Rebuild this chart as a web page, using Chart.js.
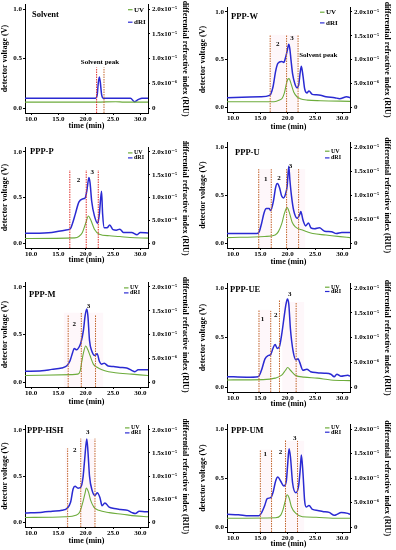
<!DOCTYPE html>
<html>
<head>
<meta charset="utf-8">
<script src="https://cdn.jsdelivr.net/npm/chart.js@4.4.1/dist/chart.umd.min.js"></script>
<style>
body { margin: 0; background: #fff; width: 396px; height: 550px; position: relative; overflow: hidden; }
canvas { position: absolute; }
</style>
</head>
<body>
<script>
// time (min), UV in V, dRI in units of 1e-5 RIU
var solventUV = [[8.9,0.060],[22.0,0.060],[25.5,0.064],[27.0,0.060],[31.4,0.060]];
var solventDri = [[8.9,0.20],[21.8,0.20],[22.1,0.26],[22.3,0.50],[22.5,0.63],[22.7,0.50],[22.9,0.28],[23.2,0.20],[28.2,0.20],[28.9,0.13],[29.6,0.17],[30.3,0.20],[31.4,0.20]];

var wUV = [[8.9,0.058],[17.5,0.058],[18.5,0.075],[19.0,0.095],[19.4,0.15],[19.7,0.23],[20.0,0.29],[20.25,0.30],[20.6,0.25],[21.1,0.16],[21.7,0.11],[22.3,0.09],[23.6,0.075],[26.0,0.068],[31.4,0.062]];
var wDri = [[8.9,0.20],[15.0,0.22],[16.7,0.25],[17.3,0.42],[17.8,0.76],[18.2,0.92],[18.9,0.96],[19.3,0.94],[19.6,1.04],[19.9,1.18],[20.2,1.32],[20.4,1.22],[20.6,1.00],[20.9,0.70],[21.3,0.50],[21.7,0.41],[22.0,0.46],[22.3,0.74],[22.5,0.86],[22.8,0.66],[23.1,0.39],[23.5,0.30],[23.9,0.34],[24.5,0.27],[25.2,0.26],[26.0,0.25],[27.0,0.22],[28.6,0.20],[29.5,0.18],[30.8,0.22],[31.4,0.20]];

var pUV = [[8.9,0.054],[18.0,0.060],[18.75,0.075],[19.4,0.12],[20.0,0.22],[20.5,0.30],[20.9,0.26],[21.6,0.155],[22.5,0.10],[24.4,0.083],[26.25,0.075],[28.1,0.065],[31.4,0.058]];
var pDri = [[8.9,0.22],[13.8,0.24],[16.2,0.29],[17.2,0.32],[17.6,0.44],[18.1,0.64],[18.75,0.90],[19.4,0.97],[19.9,0.99],[20.2,1.14],[20.6,1.44],[20.8,1.32],[21.1,0.92],[21.6,0.60],[22.2,0.44],[22.5,0.64],[22.9,1.14],[23.1,0.64],[23.4,0.34],[23.9,0.34],[24.4,0.40],[25.0,0.30],[25.6,0.29],[26.25,0.31],[26.9,0.24],[28.4,0.24],[29.4,0.19],[30.0,0.24],[31.4,0.23]];

var uUV = [[8.9,0.058],[15.8,0.070],[17.7,0.085],[18.3,0.12],[18.9,0.20],[19.4,0.31],[19.9,0.37],[20.3,0.32],[20.8,0.22],[21.4,0.17],[22.7,0.136],[24.6,0.10],[27.0,0.085],[29.6,0.068],[31.4,0.058]];
var uDri = [[8.9,0.20],[14.4,0.20],[14.8,0.24],[15.2,0.40],[15.7,0.64],[16.1,0.72],[16.6,0.72],[16.9,0.68],[17.4,0.88],[17.8,1.16],[18.1,1.24],[18.5,1.16],[18.9,0.98],[19.25,0.94],[19.6,1.02],[19.9,1.18],[20.2,1.60],[20.4,1.32],[20.7,0.98],[21.1,0.68],[21.75,0.52],[22.25,0.61],[22.4,0.66],[22.8,0.48],[23.3,0.36],[23.8,0.42],[24.25,0.32],[24.9,0.30],[25.8,0.32],[26.75,0.25],[28.0,0.24],[28.9,0.20],[29.9,0.22],[31.4,0.22]];

var mUV = [[8.9,0.070],[17.4,0.080],[18.5,0.085],[19.0,0.12],[19.3,0.22],[19.6,0.31],[20.0,0.38],[20.4,0.34],[20.8,0.28],[21.4,0.19],[22.3,0.15],[23.5,0.12],[25.4,0.10],[28.4,0.085],[31.4,0.070]];
var mDri = [[8.9,0.23],[12.0,0.24],[13.8,0.27],[15.6,0.30],[16.5,0.34],[17.1,0.44],[17.6,0.62],[17.9,0.71],[18.35,0.68],[18.8,0.74],[19.15,0.84],[19.6,1.10],[19.9,1.40],[20.2,1.54],[20.4,1.40],[20.7,0.88],[21.1,0.66],[21.7,0.56],[22.1,0.60],[22.5,0.44],[22.9,0.38],[23.4,0.40],[24.1,0.34],[25.1,0.33],[26.3,0.31],[27.5,0.30],[28.4,0.25],[29.0,0.22],[29.6,0.26],[30.9,0.26],[31.4,0.26]];

var ueUV = [[8.9,0.072],[15.5,0.075],[17.7,0.09],[18.9,0.12],[19.6,0.17],[20.0,0.197],[20.5,0.17],[21.4,0.12],[23.0,0.10],[25.4,0.09],[27.9,0.072],[31.4,0.065]];
var ueDri = [[8.9,0.21],[12.5,0.20],[14.6,0.21],[15.2,0.34],[15.85,0.57],[16.5,0.64],[16.9,0.66],[17.3,0.78],[17.7,0.86],[18.1,0.78],[18.5,0.82],[18.9,1.06],[19.4,1.46],[19.7,1.68],[19.95,1.78],[20.2,1.68],[20.5,1.18],[21.0,0.72],[21.5,0.55],[21.9,0.57],[22.2,0.50],[22.8,0.34],[23.5,0.36],[24.2,0.31],[25.4,0.29],[26.7,0.28],[27.9,0.26],[28.5,0.21],[29.0,0.26],[29.7,0.22],[31.0,0.24],[31.4,0.22]];

var hshUV = [[8.9,0.053],[16.3,0.060],[18.2,0.077],[18.9,0.11],[19.4,0.20],[19.9,0.32],[20.1,0.37],[20.5,0.33],[20.9,0.24],[21.5,0.165],[22.4,0.13],[24.3,0.105],[26.7,0.088],[29.1,0.070],[31.4,0.060]];
var hshDri = [[8.9,0.20],[12.1,0.22],[13.9,0.24],[15.7,0.26],[16.65,0.31],[17.25,0.44],[17.7,0.72],[18.05,0.78],[18.6,0.74],[19.1,0.76],[19.5,0.96],[19.8,1.34],[20.2,1.80],[20.4,1.56],[20.7,1.00],[21.2,0.68],[21.7,0.58],[22.1,0.64],[22.6,0.54],[23.0,0.36],[23.5,0.42],[24.3,0.33],[25.2,0.30],[26.4,0.28],[27.7,0.26],[28.5,0.21],[29.1,0.19],[29.8,0.24],[31.0,0.23],[31.4,0.23]];

var umUV = [[8.9,0.090],[17.8,0.095],[18.7,0.12],[19.1,0.17],[19.5,0.255],[19.9,0.33],[20.25,0.30],[20.7,0.205],[21.5,0.14],[22.7,0.105],[25.2,0.10],[28.2,0.09],[31.4,0.09]];
var umDri = [[8.9,0.26],[11.0,0.25],[12.9,0.23],[14.7,0.23],[15.3,0.31],[15.8,0.44],[16.25,0.58],[16.9,0.60],[17.3,0.70],[17.8,0.94],[18.2,1.02],[18.7,0.94],[19.3,0.84],[19.75,0.94],[20.0,1.28],[20.25,1.60],[20.5,1.44],[20.9,0.90],[21.5,0.70],[22.0,0.84],[22.3,1.18],[22.5,1.47],[22.8,1.10],[23.1,0.54],[23.4,0.41],[23.9,0.44],[24.55,0.36],[25.5,0.34],[26.4,0.32],[27.6,0.30],[28.55,0.24],[29.0,0.26],[29.8,0.30],[31.0,0.28],[31.4,0.26]];

// fraction boundaries (time, min) and how high their dotted lines go (V)
var solventCuts = [22.0, 23.35], solventCutTops = [0.41, 0.41];
var wCuts = [16.8, 19.8, 21.9], wCutTops = [0.76, 0.76, 0.76];
var pCuts = [17.1, 20.1, 22.3], pCutTops = [0.80, 0.80, 0.80];
var uCuts = [14.7, 17.0, 19.8, 22.0], uCutTops = [0.77, 0.77, 0.77, 0.77];
var mCuts = [16.8, 19.2, 21.8], mCutTops = [0.71, 0.73, 0.71];
var ueCuts = [14.75, 16.9, 18.5, 21.55], ueCutTops = [0.78, 0.77, 0.88, 0.86];
var hshCuts = [16.7, 19.1, 21.7], hshCutTops = [0.80, 0.905, 0.905];
var umCuts = [15.0, 17.05, 19.6, 21.8], umCutTops = [0.79, 0.79, 0.89, 0.88];

var rightTickLabels = ['0', '5.0x10\u207B\u2076', '1.0x10\u207B\u2075', '1.5x10\u207B\u2075', '2.0x10\u207B\u2075'];

var blue = '#2a2ad2', green = '#6dac3c', brown = '#c2652c', red = '#e0302c';
var serif = "'Liberation Serif', 'DejaVu Serif', serif";

var cols = [{x: 0, w: 190, left: 25, right: 42}, {x: 198, w: 194, left: 29, right: 42}];

var panels = [
    {name: 'Solvent', uv: solventUV, dri: solventDri, cuts: solventCuts, tops: solventCutTops, col: 0, top: 2, bottom: 113, titleY: 126,
     colors: [red, brown], shade: [], notes: [['Solvent peak', 22.6, 0.465]], nameAt: [7, 11], leg: [14, 5.5, 18], legSize: 7},
    {name: 'PPP-W', uv: wUV, dri: wDri, cuts: wCuts, tops: wCutTops, col: 1, top: 5, bottom: 112, titleY: 127,
     colors: [brown], shade: [[16.8, 21.9, 0.76]], notes: [['2', 18.2, 0.66], ['3', 20.8, 0.72], ['Solvent peak', 25.6, 0.55]], nameAt: [4, 10], leg: [24, 5, 15.7], legSize: 7},
    {name: 'PPP-P', uv: pUV, dri: pDri, cuts: pCuts, tops: pCutTops, col: 0, top: 145, bottom: 248, titleY: 260,
     colors: [red], shade: [], notes: [['2', 18.7, 0.69], ['3', 21.2, 0.78]], nameAt: [5, 5], leg: [14, 5.7, 10.7], legSize: 6},
    {name: 'PPP-U', uv: uUV, dri: uDri, cuts: uCuts, tops: uCutTops, col: 1, top: 140, bottom: 248, titleY: 262,
     colors: [brown], shade: [[14.7, 17.0, 0.77], [19.8, 23.2, 0.77]], notes: [['1', 16.0, 0.67], ['2', 18.4, 0.68], ['3', 20.5, 0.80]], nameAt: [8, 10.7], leg: [19, 9, 15.7], legSize: 6},
    {name: 'PPP-M', uv: mUV, dri: mDri, cuts: mCuts, tops: mCutTops, col: 0, top: 280, bottom: 387, titleY: 402,
     colors: [brown], shade: [[16.0, 19.2, 0.73], [19.2, 23.2, 0.73]], notes: [['2', 17.9, 0.61], ['3', 20.5, 0.80]], nameAt: [4, 12.7], leg: [18, 5.7, 10.7], legSize: 6},
    {name: 'PPP-UE', uv: ueUV, dri: ueDri, cuts: ueCuts, tops: ueCutTops, col: 1, top: 281, bottom: 392, titleY: 404,
     colors: [brown], shade: [[14.75, 16.9, 0.78], [19.0, 23.0, 0.86]], notes: [['1', 15.4, 0.69], ['2', 17.8, 0.73], ['3', 20.4, 0.94]], nameAt: [3, 7], leg: [19, 4, 8.3], legSize: 6},
    {name: 'PPP-HSH', uv: hshUV, dri: hshDri, cuts: hshCuts, tops: hshCutTops, col: 0, top: 423, bottom: 527, titleY: 541,
     colors: [brown], shade: [[16.3, 16.7, 0.80], [19.1, 21.7, 0.9]], notes: [['2', 18.0, 0.78], ['3', 20.4, 0.97]], nameAt: [2, 6], leg: [17, 2.7, 7.7], legSize: 6},
    {name: 'PPP-UM', uv: umUV, dri: umDri, cuts: umCuts, tops: umCutTops, col: 1, top: 422, bottom: 532, titleY: 544,
     colors: [brown], shade: [[15.0, 17.05, 0.79], [19.6, 23.0, 0.88]], notes: [['1', 15.9, 0.745], ['2', 18.7, 0.76], ['3', 21.3, 0.91]], nameAt: [4, 7], leg: [19, 3.7, 8], legSize: 6}
];

function toXY(pt) { return {x: pt[0], y: pt[1]}; }

var notesPlugin = {
    id: 'notes',
    beforeDatasetsDraw: function (chart) {
        var p = chart.options.plugins.notes.panel;
        var ctx = chart.ctx, xs = chart.scales.x, ys = chart.scales.y;
        ctx.save();
        ctx.fillStyle = 'rgba(246,190,214,0.12)';
        p.shade.forEach(function (s) {
            var x0 = xs.getPixelForValue(s[0]), x1 = xs.getPixelForValue(s[1]);
            var y0 = ys.getPixelForValue(s[2]), y1 = chart.chartArea.bottom;
            ctx.fillRect(x0, y0, x1 - x0, y1 - y0);
        });
        ctx.restore();
    },
    afterDatasetsDraw: function (chart) {
        var p = chart.options.plugins.notes.panel;
        var ctx = chart.ctx, xs = chart.scales.x, ys = chart.scales.y, area = chart.chartArea;
        ctx.save();
        ctx.fillStyle = '#000';
        ctx.textBaseline = 'middle';
        // panel name
        ctx.font = 'bold 8.5px ' + serif;
        ctx.textAlign = 'left';
        ctx.fillText(p.name, area.left + p.nameAt[0], area.top + p.nameAt[1]);
        // fraction numbers and peak labels
        ctx.font = 'bold 7px ' + serif;
        ctx.textAlign = 'center';
        p.notes.forEach(function (n) {
            ctx.fillText(n[0], xs.getPixelForValue(n[1]), ys.getPixelForValue(n[2]));
        });
        // legend
        var tx = area.right - p.leg[0];
        ctx.font = 'bold ' + p.legSize + 'px ' + serif;
        ctx.textAlign = 'left';
        [['UV', green, p.leg[1]], ['dRI', blue, p.leg[2]]].forEach(function (item) {
            var y = area.top + item[2];
            ctx.strokeStyle = item[1];
            ctx.lineWidth = 1.2;
            ctx.beginPath();
            ctx.moveTo(tx - 6, y);
            ctx.lineTo(tx - 1.5, y);
            ctx.stroke();
            ctx.fillText(item[0], tx, y);
        });
        ctx.restore();
    }
};

panels.forEach(function (p) {
    var col = cols[p.col];
    var canvasTop = p.top - 4;
    var xh = p.titleY + 5 - p.bottom;
    var cv = document.createElement('canvas');
    cv.width = col.w;
    cv.height = Math.round(p.bottom + xh - canvasTop);
    cv.style.left = col.x + 'px';
    cv.style.top = canvasTop + 'px';
    document.body.appendChild(cv);

    var datasets = [];
    p.cuts.forEach(function (t, i) {
        datasets.push({
            data: [{x: t, y: -0.05}, {x: t, y: p.tops[i]}],
            borderColor: p.colors[i] || p.colors[0],
            borderWidth: 1,
            borderDash: [1.5, 1],
            pointRadius: 0,
            yAxisID: 'y'
        });
    });
    datasets.push({label: 'UV', data: p.uv.map(toXY), borderColor: green, borderWidth: 1.1,
        pointRadius: 0, cubicInterpolationMode: 'monotone', yAxisID: 'y'});
    datasets.push({label: 'dRI', data: p.dri.map(toXY), borderColor: blue, borderWidth: 1.5,
        pointRadius: 0, cubicInterpolationMode: 'monotone', yAxisID: 'y1'});

    var tickFont = {family: serif, size: 7, weight: 'bold'};
    var titleFont = {family: serif, size: 8, weight: 'bold'};
    var grid = {display: true, drawOnChartArea: false, drawTicks: true, tickLength: 2, color: '#000'};
    var border = {display: true, color: '#000', width: 1};

    new Chart(cv, {
        type: 'line',
        data: {datasets: datasets},
        options: {
            responsive: false,
            animation: false,
            devicePixelRatio: 1,
            layout: {padding: {top: 4, left: 0, right: 0, bottom: 0}},
            plugins: {legend: {display: false}, tooltip: {enabled: false}, notes: {panel: p}},
            scales: {
                x: {
                    type: 'linear', min: 8.9, max: 31.4,
                    grid: grid, border: border,
                    ticks: {stepSize: 5, includeBounds: false, padding: 0, maxRotation: 0, autoSkip: false,
                        color: '#000', font: tickFont, callback: function (v) { return v.toFixed(1); }},
                    title: {display: true, text: 'time (min)', color: '#000', font: titleFont, padding: 0},
                    afterFit: function (s) { s.height = xh; }
                },
                y: {
                    position: 'left', min: -0.05, max: 1.05,
                    grid: grid, border: border,
                    ticks: {stepSize: 0.5, includeBounds: false, padding: 1, color: '#000', font: tickFont,
                        callback: function (v) { return v.toFixed(1); }},
                    title: {display: true, text: 'detector voltage (V)', color: '#000', font: titleFont, padding: 0},
                    afterFit: function (s) { s.width = col.left; }
                },
                y1: {
                    position: 'right', min: -0.1, max: 2.1,
                    grid: grid, border: border,
                    ticks: {stepSize: 0.5, includeBounds: false, padding: 2, color: '#000', font: tickFont,
                        callback: function (v) { return rightTickLabels[Math.round(v * 2)]; }},
                    title: {display: true, text: 'differential refractive index (RIU)', color: '#000', font: titleFont, padding: 0},
                    afterFit: function (s) { s.width = col.right; }
                }
            }
        },
        plugins: [notesPlugin]
    });
});
</script>
</body>
</html>
